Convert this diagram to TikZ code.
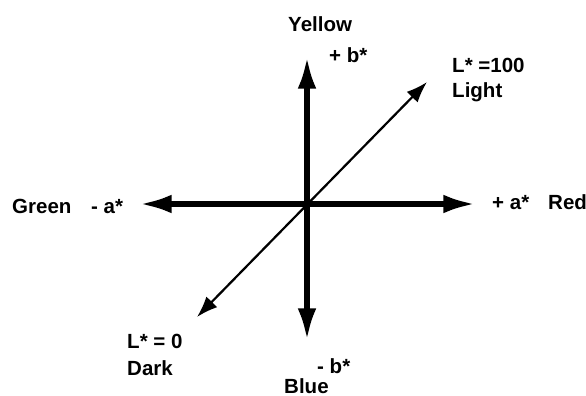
\documentclass[tikz,border=0pt]{standalone}
\usepackage{fontspec}
\setmainfont{Liberation Sans}
\usetikzlibrary{arrows.meta}
\begin{document}
\begin{tikzpicture}[x=0.03cm, y=-0.03cm,
  lbl/.style={font=\bfseries\fontsize{17.5}{21}\selectfont, inner sep=0pt, anchor=base west},
  axis/.style={line width=4.3pt, {Latex[length=27pt, width=16pt]}-{Latex[length=27pt, width=16pt]}},
  lightaxis/.style={line width=1.9pt, {Latex[length=18pt, width=13pt]}-{Latex[length=18pt, width=13pt]}}]
  \useasboundingbox (0,0) rectangle (586,396);
  % Axis end points
  \coordinate (origin) at (307,204);
  \coordinate (yellowtip) at (307,57);
  \coordinate (bluetip) at (307,340);
  \coordinate (greentip) at (140,204);
  \coordinate (redtip) at (475,204);
  \coordinate (darktip) at (197,317);
  \coordinate (lighttip) at (427,82);
  % a* and b* axes
  \draw[axis] (greentip) -- (redtip);
  \draw[axis] (yellowtip) -- (bluetip);
  % L* axis
  \draw[lightaxis] (darktip) -- (lighttip);
  % Top labels
  \node[lbl] (yellow) at (288,32) {Yellow};
  \node[lbl] (plusb) at (329,63) {+ b*};
  \node[lbl] (lhundred) at (452,72) {L* =100};
  \node[lbl] (light) at (452,97) {Light};
  % Left and right labels
  \node[lbl] (green) at (12,213) {Green};
  \node[lbl] (minusa) at (91,213) {- a*};
  \node[lbl] (plusa) at (492,209) {+ a*};
  \node[lbl] (red) at (548,209) {Red};
  % Bottom labels
  \node[lbl] (lzero) at (127,348) {L* = 0};
  \node[lbl] (dark) at (127,375) {Dark};
  \node[lbl] (minusb) at (317,373) {- b*};
  \node[lbl] (blue) at (284,393) {Blue};
\end{tikzpicture}
\end{document}
